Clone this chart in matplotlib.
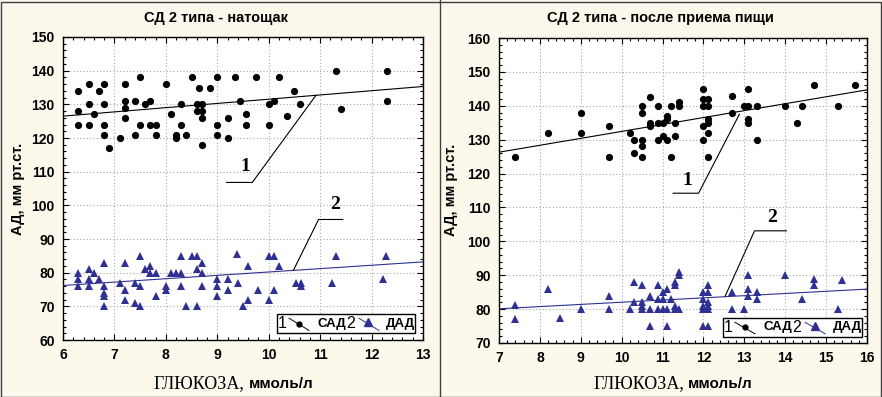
import matplotlib.pyplot as plt
from matplotlib.ticker import MultipleLocator, AutoMinorLocator
from matplotlib.patches import Rectangle
from matplotlib.lines import Line2D

# --- left panel: fasting ---
fast_sad_x = [6.3, 6.3, 6.3, 6.5, 6.5, 6.5, 6.6, 6.7, 6.8, 6.8, 6.8, 6.8, 6.9, 7.1,
              7.2, 7.2, 7.2, 7.2, 7.4, 7.4, 7.5, 7.5, 7.6, 7.7, 7.7, 7.8, 7.8, 8.0,
              8.1, 8.2, 8.2, 8.3, 8.3, 8.4, 8.5, 8.6, 8.6, 8.65, 8.7, 8.7, 8.7, 8.7,
              8.85, 9.0, 9.0, 9.0, 9.2, 9.2, 9.35, 9.45, 9.55, 9.55, 9.75, 10.0, 10.0,
              10.1, 10.2, 10.35, 10.5, 10.6, 11.3, 11.4, 12.3, 12.3]
fast_sad_y = [134, 128, 124, 136, 130, 124, 127, 134, 136, 130, 124, 121, 117, 120,
              136, 131, 129, 126, 131, 121, 138, 124, 130, 131, 124, 124, 121, 136,
              127, 121, 120, 130, 124, 121, 138, 128, 130, 135, 130, 128, 126, 118,
              135, 138, 124, 121, 126, 120, 138, 131, 127, 124, 138, 130, 124,
              131, 138, 126.5, 134, 130, 140, 128.5, 140, 131]
fast_dad_x = [6.3, 6.3, 6.3, 6.5, 6.5, 6.5, 6.6, 6.7, 6.8, 6.8, 6.8, 6.8, 6.8, 7.1,
              7.2, 7.2, 7.2, 7.4, 7.4, 7.5, 7.5, 7.5, 7.6, 7.7, 7.7, 7.8, 7.8, 8.0,
              8.0, 8.1, 8.2, 8.3, 8.3, 8.3, 8.4, 8.5, 8.6, 8.6, 8.6, 8.7, 8.7, 8.7,
              9.0, 9.0, 9.0, 9.2, 9.2, 9.38, 9.4, 9.5, 9.6, 9.6, 9.8, 10.0, 10.0,
              10.1, 10.1, 10.2, 10.53, 10.63, 10.63, 11.24, 11.3, 12.23, 12.28]
fast_dad_y = [80, 78, 76, 81, 78, 76, 80, 78, 83, 76, 74, 73, 70, 77,
              83, 75, 72, 77, 71, 85, 76, 70, 81, 82, 80, 80, 73, 76,
              75, 80, 80, 85, 80, 76, 70, 85, 85, 81, 70, 83, 80, 76,
              78, 76, 73, 78, 75, 85.5, 77, 70, 82, 72, 75, 85, 72,
              85, 75, 82, 77, 77, 76, 77, 85, 78, 85]
fast_fit_x = [6, 13]
fast_fit_sad = [126.5, 135.3]
fast_fit_dad = [76.2, 83.2]
# callout leaders (x, y) and label positions
fast_lead1_x = [9.18, 9.68, 10.92]
fast_lead1_y = [106.8, 106.8, 132.7]
fast_lab1 = (9.54, 111.4)
fast_lead2_x = [11.44, 10.97, 10.48]
fast_lead2_y = [95.8, 95.8, 80.7]
fast_lab2 = (11.29, 100.1)

# --- right panel: after meal ---
meal_sad_x = [7.4, 8.2, 9.0, 9.0, 9.7, 9.7, 10.2, 10.3, 10.3, 10.5, 10.5, 10.5, 10.5, 10.5,
              10.7, 10.7, 10.7, 10.9, 10.9, 10.9, 11.0, 11.0, 11.1, 11.1, 11.1, 11.2, 11.2,
              11.3, 11.3, 11.4, 11.4, 12.0, 12.0, 12.0, 12.0, 12.0, 12.1, 12.1, 12.1, 12.1,
              12.1, 12.1, 12.7, 12.7, 13.0, 13.1, 13.1, 13.1, 13.1, 13.3, 13.3, 14.0, 14.3,
              14.4, 14.7, 15.3, 15.7]
meal_sad_y = [125, 132, 138, 132, 134, 125, 132, 130, 126, 140, 138, 130, 128, 125,
              142.5, 135, 134, 140, 135, 130, 131, 135, 136, 137, 130, 140, 125,
              135, 131, 141, 140, 145, 142, 140, 134, 130, 142, 140, 136, 135,
              132, 125, 143, 138, 140, 145, 140, 136, 135, 140, 130, 140, 135,
              140, 146, 140, 146]
meal_dad_x = [7.4, 7.4, 8.2, 8.5, 9.0, 9.7, 9.7, 10.2, 10.3, 10.3, 10.5, 10.5, 10.5, 10.5,
              10.7, 10.7, 10.7, 10.9, 10.9, 10.9, 11.0, 11.0, 11.0, 11.1, 11.1, 11.1, 11.2,
              11.3, 11.3, 11.3, 11.3, 11.4, 11.4, 11.4, 12.0, 12.0, 12.0, 12.0, 12.0, 12.1,
              12.1, 12.1, 12.1, 12.1, 12.1, 12.7, 12.7, 13.0, 13.1, 13.1, 13.1, 13.3, 13.3,
              14.0, 14.4, 14.7, 14.7, 15.3, 15.4]
meal_dad_y = [81.2, 77, 86, 77.4, 80, 84, 80, 80, 88, 82, 87, 82, 81, 80,
              84, 80, 75, 87, 83, 80, 85, 83, 80, 86, 80, 75, 83,
              88, 87, 81, 80, 91, 90, 80, 85, 83, 81, 80, 75, 87,
              85, 82, 81, 80, 75, 85, 80, 80, 90, 86, 84, 85, 83,
              90, 83, 89, 87, 80, 88.5]
meal_fit_x = [7, 16]
meal_fit_sad = [126.3, 144.7]
meal_fit_dad = [80.1, 85.9]
meal_lead1_x = [11.26, 11.88, 12.88]
meal_lead1_y = [114.2, 114.2, 137.5]
meal_lab1 = (11.61, 117.9)
meal_lead2_x = [14.03, 13.25, 12.53]
meal_lead2_y = [103.1, 103.1, 83.8]
meal_lab2 = (13.67, 107.1)

titles = ['СД 2 типа - натощак', 'СД 2 типа - после приема пищи']
ylabel = 'АД, мм рт.ст.'
xlab_serif = 'ГЛЮКОЗА,'
xlab_sans = 'ммоль/л'

BG = '#fdf8ec'
BLUE = '#2e3192'
SANS = 'Liberation Sans'
SERIF = 'Liberation Serif'

fig = plt.figure(figsize=(8.82, 3.97), dpi=100, facecolor=BG)
ax1 = fig.add_axes([63 / 882, 57 / 397, 360 / 882, 303 / 397])
ax2 = fig.add_axes([499 / 882, 54 / 397, 368 / 882, 305 / 397])


def style_axes(ax, xlim, ylim):
    ax.set_facecolor('white')
    ax.set_xlim(*xlim)
    ax.set_ylim(*ylim)
    ax.xaxis.set_major_locator(MultipleLocator(1))
    ax.yaxis.set_major_locator(MultipleLocator(10))
    ax.xaxis.set_minor_locator(AutoMinorLocator(5))
    ax.yaxis.set_minor_locator(AutoMinorLocator(5))
    ax.tick_params(which='both', direction='in', top=True, right=True, width=0.8)
    ax.tick_params(which='major', length=4, pad=6, labelsize=10)
    ax.tick_params(which='minor', length=2)
    for lab in ax.get_xticklabels() + ax.get_yticklabels():
        lab.set_family(SANS)
        lab.set_weight('bold')
    ax.grid(True, which='major', color='#a8a8a8', linestyle=(0, (1, 2)), linewidth=0.8)
    ax.set_axisbelow(True)
    for s in ax.spines.values():
        s.set_linewidth(1.0)


def draw_legend(ax, x0, x1, y0, y1):
    w = x1 - x0
    h = y1 - y0
    ax.add_patch(Rectangle((x0, y0), w, h, transform=ax.transAxes, facecolor='white',
                           edgecolor='black', linewidth=1.0, zorder=5))
    ym = y0 + h * 0.5
    kw = dict(transform=ax.transAxes, va='center', zorder=6, family=SANS)
    ax.text(x0 + w * 0.04, ym, '1', ha='center', fontsize=11.5, **kw)
    ax.add_line(Line2D([x0 + w * 0.088, x0 + w * 0.232], [y0 + h * 0.78, y0 + h * 0.15],
                       transform=ax.transAxes, color='black', lw=0.7, zorder=6))
    ax.add_line(Line2D([x0 + w * 0.16], [ym], transform=ax.transAxes, marker='o',
                       ms=3.5, color='black', zorder=7))
    ax.text(x0 + w * 0.29, ym, 'САД', ha='left', fontsize=9.5, weight='bold', **kw)
    ax.text(x0 + w * 0.53, ym, '2', ha='center', fontsize=11.5, **kw)
    ax.add_line(Line2D([x0 + w * 0.592, x0 + w * 0.737], [y0 + h * 0.78, y0 + h * 0.15],
                       transform=ax.transAxes, color=BLUE, lw=0.7, zorder=6))
    ax.add_line(Line2D([x0 + w * 0.66], [y0 + h * 0.6], transform=ax.transAxes, marker='^',
                       ms=5.5, color=BLUE, zorder=7))
    ax.text(x0 + w * 0.79, ym, 'ДАД', ha='left', fontsize=9.5, weight='bold', **kw)


panels = [
    (ax1, (6, 13), (60, 150), fast_sad_x, fast_sad_y, fast_dad_x, fast_dad_y,
     fast_fit_x, fast_fit_sad, fast_fit_dad, fast_lead1_x, fast_lead1_y, fast_lab1,
     fast_lead2_x, fast_lead2_y, fast_lab2, (0.594, 0.979, 0.022, 0.086)),
    (ax2, (7, 16), (70, 160), meal_sad_x, meal_sad_y, meal_dad_x, meal_dad_y,
     meal_fit_x, meal_fit_sad, meal_fit_dad, meal_lead1_x, meal_lead1_y, meal_lab1,
     meal_lead2_x, meal_lead2_y, meal_lab2, (0.608, 0.986, 0.021, 0.081)),
]

for (ax, xl, yl, sx, sy, dx, dy, fx, fs, fd, l1x, l1y, lab1, l2x, l2y, lab2, box) in panels:
    style_axes(ax, xl, yl)
    ax.plot(fx, fs, color='black', lw=0.8, zorder=3)
    ax.plot(fx, fd, color=BLUE, lw=0.8, zorder=3)
    ax.plot(sx, sy, 'o', color='black', ms=5.2, mew=0, zorder=4)
    ax.plot(dx, dy, '^', color=BLUE, ms=6.2, mew=0, zorder=4)
    ax.plot(l1x, l1y, color='black', lw=0.8, zorder=3)
    ax.plot(l2x, l2y, color='black', lw=0.8, zorder=3)
    ax.text(lab1[0], lab1[1], '1', family=SERIF, weight='bold', fontsize=14,
            ha='center', va='center', zorder=5)
    ax.text(lab2[0], lab2[1], '2', family=SERIF, weight='bold', fontsize=14,
            ha='center', va='center', zorder=5)
    draw_legend(ax, *box)

# titles, axis labels
fig.text(216 / 882, 1 - 18 / 397, titles[0], ha='center', va='center', family=SANS,
         fontsize=10.5, weight='bold')
fig.text(660 / 882, 1 - 18 / 397, titles[1], ha='center', va='center', family=SANS,
         fontsize=10.5, weight='bold')
fig.text(18 / 882, 1 - 189 / 397, ylabel, rotation=90, ha='center', va='center',
         family=SANS, weight='bold', fontsize=10.5)
fig.text(451 / 882, 1 - 190 / 397, ylabel, rotation=90, ha='center', va='center',
         family=SANS, weight='bold', fontsize=10.5)
for split in (246.5, 686):
    fig.text((split - 2) / 882, 1 - 384 / 397, xlab_serif, ha='right', va='center',
             family=SERIF, fontsize=13)
    fig.text((split + 2) / 882, 1 - 384 / 397, xlab_sans, ha='left', va='center',
             family=SANS, weight='bold', fontsize=11)

# panel frames
fig.add_artist(Rectangle((0.5 / 882, 0.5 / 397), 880 / 882, 395 / 397, transform=fig.transFigure,
                         fill=False, edgecolor='#404040', linewidth=1.0))
fig.add_artist(Line2D([440 / 882, 440 / 882], [0, 1], transform=fig.transFigure,
                      color='#404040', linewidth=1.0))

fig.savefig('out.png', dpi=100, facecolor=BG)
